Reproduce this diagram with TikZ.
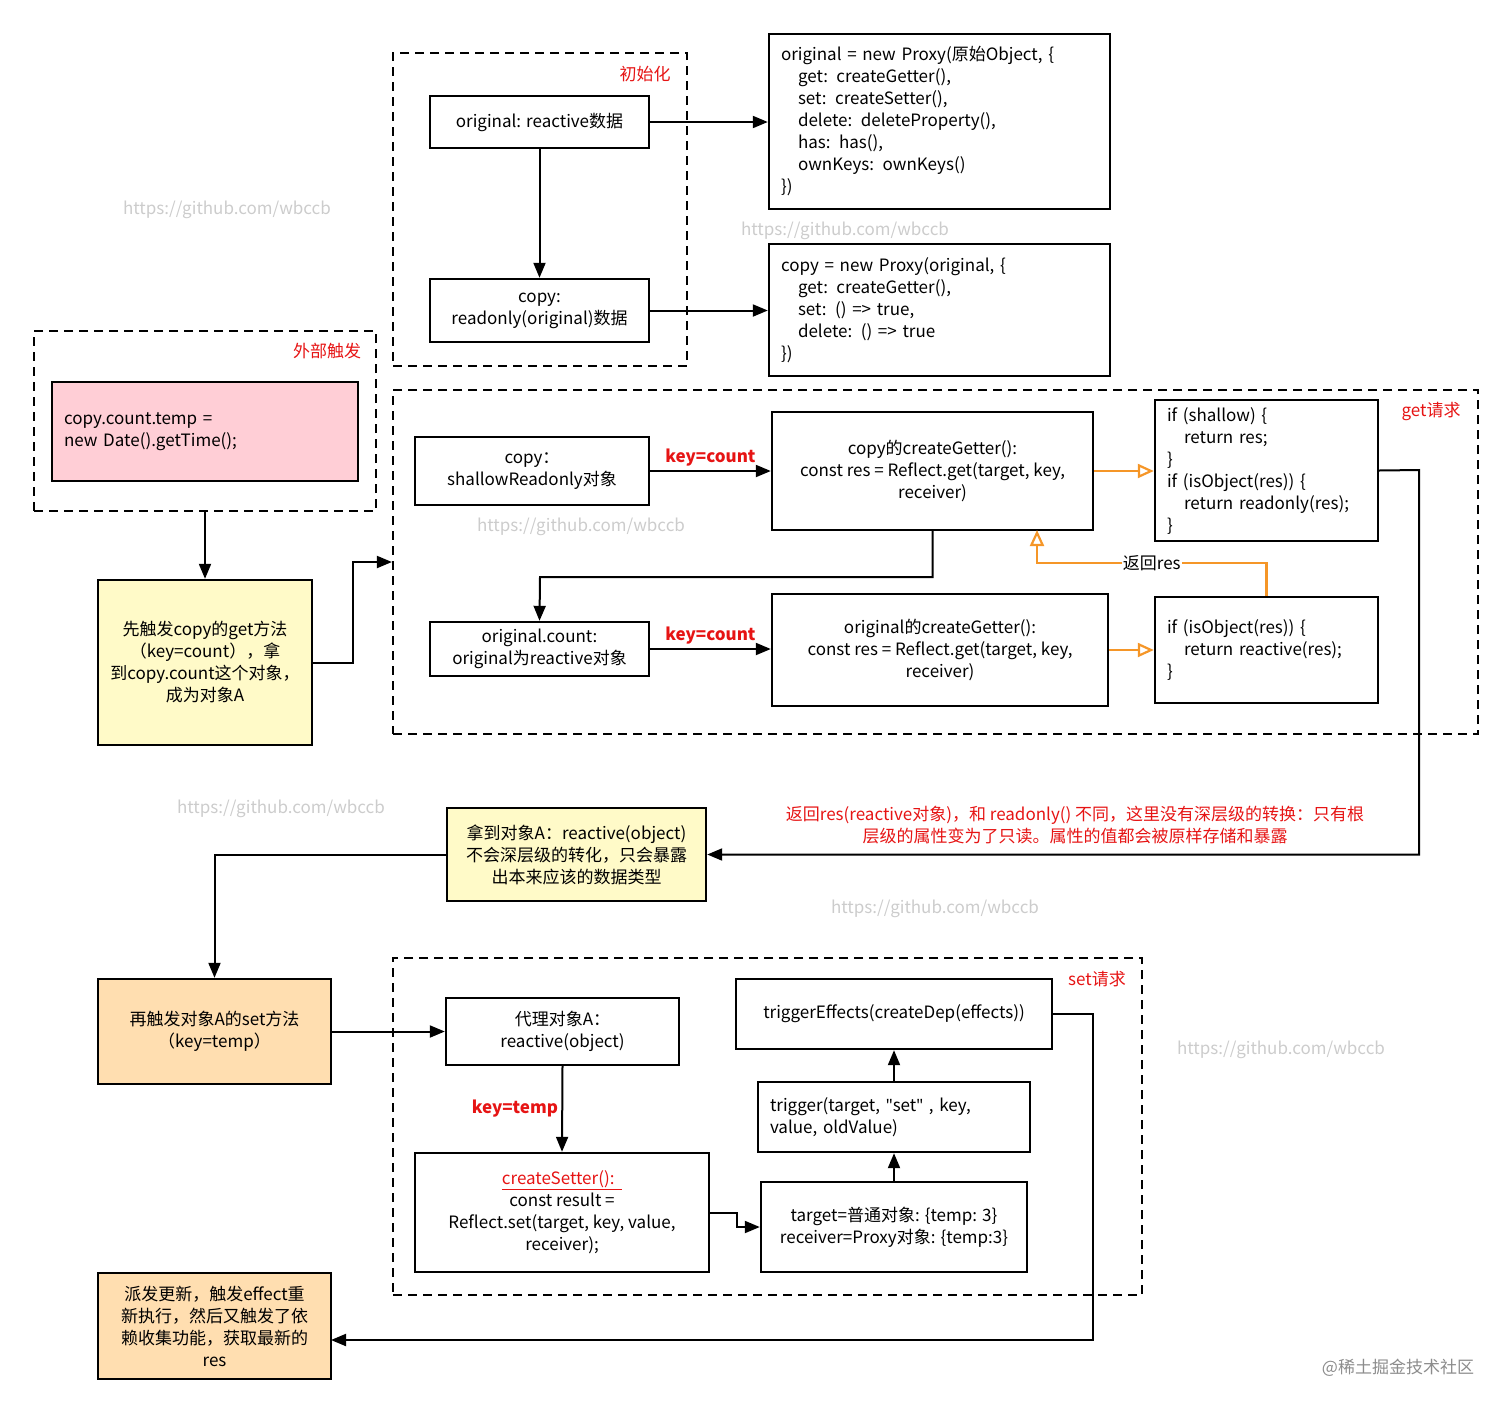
\documentclass[tikz,border=0pt]{standalone}
\usepackage{fontspec}
\setmainfont{Noto Sans CJK SC}
\newfontfamily\quotefont{Noto Sans}
\usetikzlibrary{arrows.meta, positioning}
\definecolor{pinkfill}{RGB}{255,206,214}
\definecolor{yellowfill}{RGB}{255,250,200}
\definecolor{orangefill}{RGB}{255,222,176}
\definecolor{arrorange}{RGB}{245,150,40}
\definecolor{labred}{RGB}{230,20,20}
\tikzstyle{box} = [rectangle, draw=black, line width=2.4pt, align=center, inner sep=4pt, font=\fontsize{17}{22}\selectfont]
\tikzstyle{codebox} = [box, align=left, inner xsep=12pt, inner ysep=2pt]
\tikzstyle{group} = [rectangle, draw=black, line width=2.2pt, dash pattern=on 9pt off 6pt]
\tikzstyle{grouplabel} = [text=labred, font=\fontsize{17}{22}\selectfont]
\tikzstyle{keylabel} = [text=labred, font=\bfseries\fontsize{17}{22}\selectfont]
\tikzstyle{arrow} = [line width=2pt, -{Triangle[length=15pt, width=12pt]}]
\tikzstyle{oarrow} = [line width=2.2pt, draw=arrorange, -{Triangle[open, length=16pt, width=14pt]}]
\tikzstyle{watermark} = [text=black!20, font=\fontsize{17}{22}\selectfont]

\begin{document}
\begin{tikzpicture}[x=1pt, y=-1pt]
\useasboundingbox (0,0) rectangle (1512,1414);

% Groups
\node[group, minimum width=294, minimum height=313] (init) at (540,209.5) {};
\node[grouplabel] at (645,74) {初始化};
\node[group, minimum width=342, minimum height=180] (outer) at (205,421) {};
\node[grouplabel] at (327,351) {外部触发};
\node[group, minimum width=1085, minimum height=344] (getreq) at (935.5,562) {};
\node[grouplabel] at (1431,411) {get请求};
\node[group, minimum width=749, minimum height=337] (setreq) at (767.5,1126.5) {};
\node[grouplabel] at (1097,979) {set请求};

% Nodes
\node[box, minimum width=219, minimum height=52] (orig) at (539.5,122) {original: reactive数据};
\node[box, minimum width=219, minimum height=63] (copy) at (539.5,310.5) {copy:\\readonly(original)数据};
\node[codebox, minimum width=341, minimum height=175, text width=317] (proxya) at (939.5,121.5)
  {original = new Proxy(原始Object, \{\\\quad get: createGetter(),\\\quad set: createSetter(),\\\quad delete: deleteProperty(),\\\quad has: has(),\\\quad ownKeys: ownKeys()\\\})};
\node[codebox, minimum width=341, minimum height=132, text width=317] (proxyb) at (939.5,310)
  {copy = new Proxy(original, \{\\\quad get: createGetter(),\\\quad set: () => true,\\\quad delete: () => true\\\})};
\node[codebox, fill=pinkfill, minimum width=306, minimum height=99, text width=282] (assign) at (205,431.5)
  {copy.count.temp =\\new Date().getTime();};
\node[box, fill=yellowfill, minimum width=214, minimum height=165] (firstget) at (205,662.5)
  {先触发copy的get方法\\（key=count），拿\\到copy.count这个对象，\\成为对象A};
\node[box, minimum width=234, minimum height=68] (shallow) at (532,471) {copy：\\shallowReadonly对象};
\node[box, minimum width=321, minimum height=118] (copyget) at (932.5,471)
  {copy的createGetter():\\const res = Reflect.get(target, key,\\receiver)};
\node[codebox, minimum width=223, minimum height=141, text width=199] (ifshallow) at (1266.5,470.5)
  {if (shallow) \{\\\quad return res;\\\}\\if (isObject(res)) \{\\\quad return readonly(res);\\\}};
\node[box, minimum width=219, minimum height=54] (origcount) at (539.5,649) {original.count:\\original为reactive对象};
\node[box, minimum width=336, minimum height=112] (origget) at (940,650)
  {original的createGetter():\\const res = Reflect.get(target, key,\\receiver)};
\node[codebox, minimum width=223, minimum height=106, text width=199] (ifobj) at (1266.5,650)
  {if (isObject(res)) \{\\\quad return reactive(res);\\\}};
\node[box, fill=yellowfill, minimum width=259, minimum height=93] (gota) at (576.5,854.5)
  {拿到对象A：reactive(object)\\不会深层级的转化，只会暴露\\出本来应该的数据类型};
\node[box, fill=orangefill, minimum width=233, minimum height=105] (secondset) at (214.5,1031.5)
  {再触发对象A的set方法\\（key=temp）};
\node[box, minimum width=233, minimum height=67] (proxyobj) at (562.5,1031.5) {代理对象A：\\reactive(object)};
\node[box, minimum width=294, minimum height=119] (setter) at (562,1212.5)
  {\textcolor{labred}{\underline{createSetter():\ \ }}\\const result =\\Reflect.set(target, key, value,\\receiver);};
\node[box, minimum width=316, minimum height=70] (effects) at (894,1014) {triggerEffects(createDep(effects))};
\node[codebox, minimum width=272, minimum height=70, text width=248] (trigger) at (894,1117)
  {trigger(target, {\quotefont"}set{\quotefont"} , key,\\value, oldValue)};
\node[box, minimum width=266, minimum height=90] (targetbox) at (894,1227)
  {target=普通对象: \{temp: 3\}\\receiver=Proxy对象: \{temp:3\}};
\node[box, fill=orangefill, minimum width=233, minimum height=106] (dispatch) at (214.5,1326)
  {派发更新，触发effect重\\新执行，然后又触发了依\\赖收集功能，获取最新的\\res};
\coordinate (dispin) at (331,1340);

% Watermarks
\node[watermark] at (227,210) {https://github.com/wbccb};
\node[watermark] at (845,231) {https://github.com/wbccb};
\node[watermark] at (581,527) {https://github.com/wbccb};
\node[watermark] at (281,809) {https://github.com/wbccb};
\node[watermark] at (935,909) {https://github.com/wbccb};
\node[watermark] at (1281,1050) {https://github.com/wbccb};
\node[text=black!45, font=\fontsize{17}{22}\selectfont] at (1398,1368) {@稀土掘金技术社区};

% Arrows
\draw[arrow] (orig) -- (copy);
\draw[arrow] (orig.east) -- (proxya.west |- orig.east);
\draw[arrow] (copy.east) -- (proxyb.west |- copy.east);
\draw[arrow] (outer.south) -- (firstget.north);
\draw[arrow] (firstget.east) -- ++(40,0) |- (getreq.west);
\draw[arrow] (shallow.east) -- node[keylabel, above] {key=count} (copyget.west |- shallow.east);
\draw[oarrow] (copyget.east) -- (ifshallow.west |- copyget.east);
\draw[arrow] (copyget.south) |- (540,577) -- (origcount.north);
\draw[oarrow] (ifobj.north) |- node[pos=0.75, fill=white, text=black, inner sep=1pt, font=\fontsize{17}{22}\selectfont] {返回res} (1037,563) -- (1037,530);
\draw[arrow] (origcount.east) -- node[keylabel, above] {key=count} (origget.west |- origcount.east);
\draw[oarrow] (origget.east) -- (ifobj.west |- origget.east);
\draw[arrow] (ifshallow.east) -- (1419,470) |- (gota.east);
\node[text=labred, align=center, font=\fontsize{17}{22}\selectfont] (note) at (1075,825)
  {返回res(reactive对象)，和 readonly() 不同，这里没有深层级的转换：只有根\\层级的属性变为了只读。属性的值都会被原样存储和暴露};
\draw[arrow] (gota.west) -| (secondset.north);
\draw[arrow] (secondset.east) -- (proxyobj.west);
\draw[arrow] (proxyobj.south) -- node[keylabel, left] {key=temp} (setter.north);
\draw[arrow] (setter.east) -- ++(27,0) |- (targetbox.west);
\draw[arrow] (targetbox) -- (trigger);
\draw[arrow] (trigger) -- (effects);
\draw[arrow] (effects.east) -- (1093,1014) |- (dispin);

\end{tikzpicture}
\end{document}
